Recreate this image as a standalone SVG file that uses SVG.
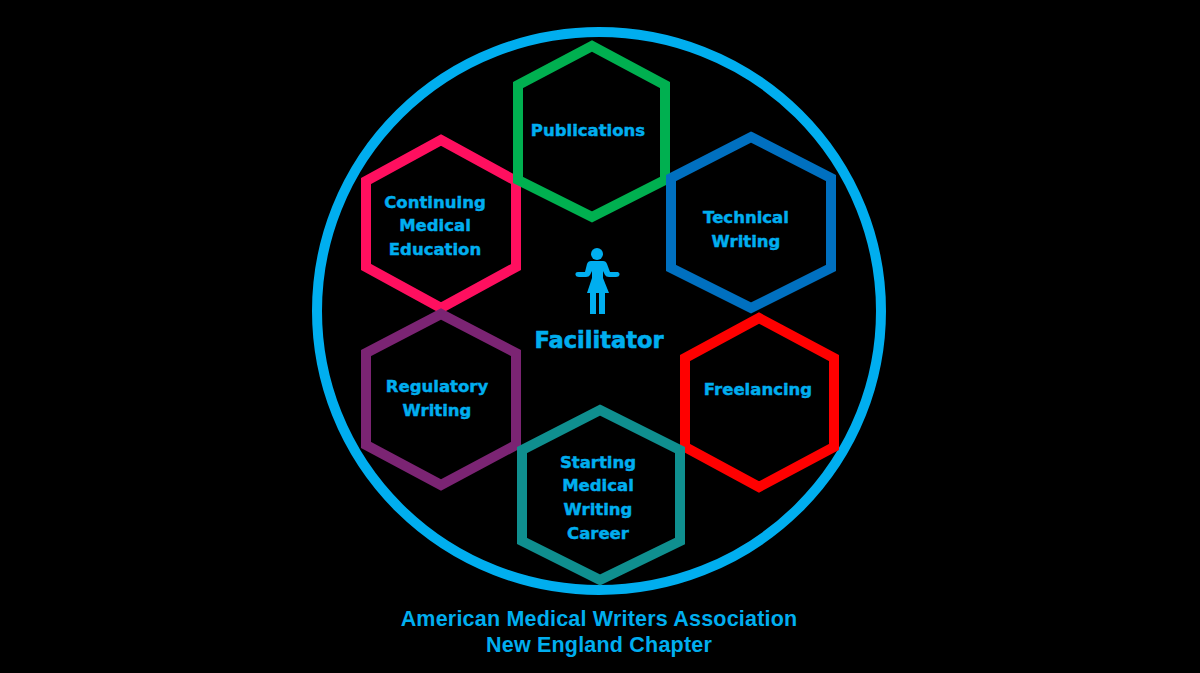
<svg xmlns="http://www.w3.org/2000/svg" width="1200" height="673" viewBox="0 0 1200 673">
<style>
.hex{fill:none;stroke-width:10;stroke-linejoin:miter}
.lbl{font-family:"DejaVu Sans","Liberation Sans",sans-serif;font-weight:700;font-size:16.5px;fill:#00aeef;stroke:#00aeef;stroke-width:.45;text-anchor:middle}
.fac{font-size:22.5px;stroke-width:.6}
.foot{font-family:"Liberation Sans",Arial,sans-serif;font-weight:700;font-size:21.5px;letter-spacing:.2px;fill:#00aeef;text-anchor:middle}
</style>
<rect width="1200" height="673" fill="#000"/>
<ellipse id="ring" cx="599" cy="311" rx="282" ry="279" fill="none" stroke="#00aeef" stroke-width="10"/>
<g id="node-cme"><polygon class="hex" stroke="#ff0f5f" points="441,140 516,181 516,267 441,308 366,267 366,181"/>
<text class="lbl" x="435" y="208">Continuing</text><text class="lbl" x="435" y="231">Medical</text><text class="lbl" x="435" y="255">Education</text></g>
<g id="node-publications"><polygon class="hex" stroke="#00b050" points="592,46 665,85 665,180 592,217 518,180 518,85"/>
<text class="lbl" x="588" y="136">Publications</text></g>
<g id="node-technical"><polygon class="hex" stroke="#0070c0" points="751,137 831,178 831,268 751,308 671,268 671,178"/>
<text class="lbl" x="746" y="223">Technical</text><text class="lbl" x="746" y="247">Writing</text></g>
<g id="node-freelancing"><polygon class="hex" stroke="#ff0000" points="759,318 834,358 834,447 759,487 685,447 685,358"/>
<text class="lbl" x="758" y="395">Freelancing</text></g>
<g id="node-regulatory"><polygon class="hex" stroke="#7b2473" points="441,314 516,353 516,445 441,485 366,445 366,353"/>
<text class="lbl" x="437" y="392">Regulatory</text><text class="lbl" x="437" y="416">Writing</text></g>
<g id="node-career"><polygon class="hex" stroke="#0f8f8f" points="600,410 680,450 680,541 600,580 522,541 522,450"/>
<text class="lbl" x="598" y="468">Starting</text><text class="lbl" x="598" y="491">Medical</text><text class="lbl" x="598" y="515">Writing</text><text class="lbl" x="598" y="539">Career</text></g>
<g id="node-facilitator">
<g fill="#00aeef"><circle cx="597" cy="254" r="6"/>
<path d="M591,261 H603 Q606,261 607,264 L610,272 L618,272 Q620,273 619.500,275 Q619,277 616,277 L609,277 Q606,277 605,275 L603,271 L603,278 L609,293 H587 L592,278 L592,271 L590,275 Q589,277 586,277 L579,277 Q576,277 575.500,275 Q575,272 578,272 L585,272 L587,264 Q588,261 591,261Z"/>
<rect x="590" y="293" width="6" height="21"/><rect x="599" y="293" width="6" height="21"/></g>
<text class="lbl fac" x="599" y="348">Facilitator</text></g>
<g id="connectors"></g>
<text class="foot" x="599" y="626">American Medical Writers Association</text>
<text class="foot" x="599" y="652">New England Chapter</text>
</svg>
